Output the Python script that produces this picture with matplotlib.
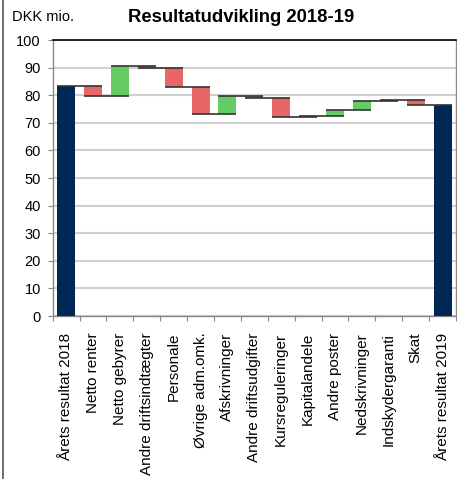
import matplotlib
matplotlib.use("Agg")
import matplotlib.pyplot as plt
from matplotlib.lines import Line2D
import numpy as np

categories = ["Årets resultat 2018", "Netto renter", "Netto gebyrer", "Andre driftsindtægter",
              "Personale", "Øvrige adm.omk.", "Afskrivninger", "Andre driftsudgifter",
              "Kursreguleringer", "Kapitalandele", "Andre poster", "Nedskrivninger",
              "Indskydergaranti", "Skat", "Årets resultat 2019"]
result_2018 = 83.4
changes = [-3.6, 10.6, -0.4, -7.2, -9.5, 6.4, -0.7, -6.9, 0.3, 2.1, 3.4, 0.3, -1.9]
result_2019 = 76.3
yticks = list(range(0, 101, 10))

navy = "#002855"
red = "#E86666"
green = "#66CC66"

plt.rcParams['font.family'] = ['Liberation Sans', 'DejaVu Sans']

fig = plt.figure(figsize=(4.57, 4.79), dpi=100)
ax = fig.add_axes([52.7/457, 1-316/479, (456-52.7)/457, (316-40)/479])

w = 0.67
x = np.arange(len(categories))
# totals
ax.bar(x[0], result_2018, width=w, color=navy, zorder=3)
ax.bar(x[-1], result_2019, width=w, color=navy, zorder=3)

levels = [result_2018]
for c in changes:
    levels.append(levels[-1] + c)
for i, c in enumerate(changes):
    xi = x[i + 1]
    lo = min(levels[i], levels[i + 1])
    ax.bar(xi, abs(c), bottom=lo, width=w, color=green if c > 0 else red, zorder=3)

# connectors
for i, lv in enumerate(levels):
    ax.plot([x[i] - w/2, x[i + 1] + w/2], [lv, lv], color="#333333", lw=1.2, zorder=4,
            solid_capstyle="butt")

ax.set_xlim(-0.5, len(categories) - 0.5)
ax.set_ylim(0, 100)
ax.set_yticks(yticks)
ax.yaxis.grid(True, color="#d0d0d0", lw=1.5, zorder=0)
ax.set_axisbelow(True)

ax.set_xticks(x)
ax.set_xticklabels(categories, rotation=90, fontsize=11, va="top", ha="center")
ax.set_xticks(np.arange(-0.5, len(categories), 1), minor=True)
ax.tick_params(axis="x", which="major", length=0, pad=12)
ax.tick_params(axis="x", which="minor", length=3.5, color="#888888", width=0.8)
ax.tick_params(axis="y", length=3.5, color="#888888", width=0.8, pad=5, labelsize=10.5)

for s in ["left", "bottom", "right"]:
    ax.spines[s].set_color("#888888")
    ax.spines[s].set_linewidth(1.0)
ax.spines["top"].set_color("black")
ax.spines["top"].set_linewidth(1.2)

fig.text(241/457, 1-17/479, "Resultatudvikling 2018-19", ha="center", va="center",
         fontsize=13.3, fontweight="bold")
fig.text(12/457, 1-17/479, "DKK mio.", ha="left", va="center", fontsize=10.5)

fig.add_artist(Line2D([2.5/457, 2.5/457], [0, 1], transform=fig.transFigure,
                      color="#555555", lw=1.2))

fig.savefig("out.png", dpi=100)
